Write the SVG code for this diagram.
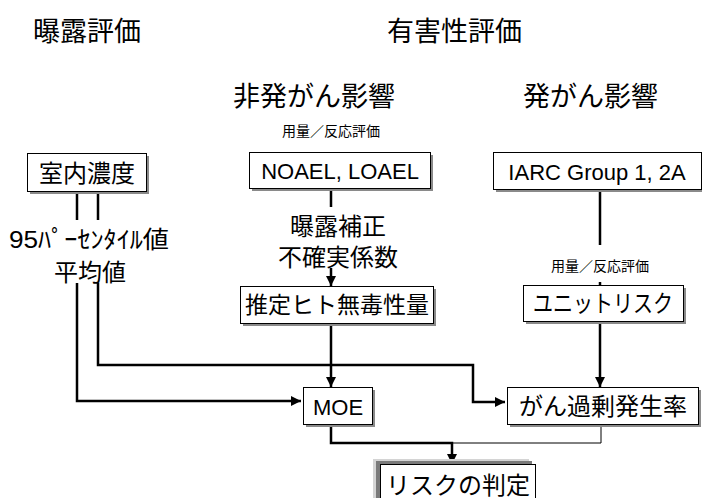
<svg xmlns="http://www.w3.org/2000/svg" width="702" height="498" viewBox="0 0 702 498">
<defs>
<marker id="arr" viewBox="0 0 10 10" refX="10" refY="5" markerWidth="4" markerHeight="4" markerUnits="strokeWidth" orient="auto">
<path d="M0,0 L10,5 L0,10 z" fill="#000"/>
</marker>
<style>
text{font-family:"Liberation Sans","Noto Sans CJK JP",sans-serif;fill:#000;}
.title{font-size:27px;}
.box{fill:#fff;stroke:#000;stroke-width:1;}
.shadow{fill:#8a8a8a;}
.lbl{font-size:24px;text-anchor:middle;}
.lat{font-size:22px;text-anchor:middle;}
.sm{font-size:14px;text-anchor:middle;}
.c{fill:none;stroke:#000;stroke-width:2.5;}
.thin{fill:none;stroke:#000;stroke-width:1;}
</style>
</defs>
<rect width="702" height="498" fill="#fff"/>
<g id="titles">
<text class="title" x="33" y="41">曝露評価</text>
<text class="title" x="387" y="41">有害性評価</text>
<text class="title" x="233" y="106">非発がん影響</text>
<text class="title" x="523" y="106">発がん影響</text>
</g>
<g id="labels">
<text class="sm" x="331" y="136">用量／反応評価</text>
<text class="sm" x="600" y="271">用量／反応評価</text>
<text class="lbl" x="338" y="235">曝露補正</text>
<text class="lbl" x="338" y="266">不確実係数</text>
<text class="lbl" x="89" y="248" textLength="160" lengthAdjust="spacingAndGlyphs">95ﾊﾟｰｾﾝﾀｲﾙ値</text>
<text class="lbl" x="90" y="281">平均値</text>
</g>
<g id="connectors">
<path class="c" d="M77,191 V220 M77,283 V401 H301" marker-end="url(#arr)"/>
<path class="c" d="M98,191 V220 M98,283 V365 H473 V402 H505" marker-end="url(#arr)"/>
<path class="c" d="M331,188 V207 M331,268 V286" marker-end="url(#arr)"/>
<path class="c" d="M331,323 V387" marker-end="url(#arr)"/>
<path class="c" d="M600,189 V245 M600,282 V285"/>
<path class="c" d="M600,321 V387" marker-end="url(#arr)"/>
<path class="thin" d="M601,425 V443 H452"/>
<path class="c" d="M331,424 V443 H452 V464" marker-end="url(#arr)"/>
</g>
<g id="node-indoor">
<rect class="shadow" x="30" y="156" width="119" height="38"/>
<rect class="box" x="27.5" y="153.5" width="119" height="38"/>
<text class="lbl" x="87" y="182">室内濃度</text>
</g>
<g id="node-noael">
<rect class="shadow" x="252" y="155" width="181" height="36"/>
<rect class="box" x="249.5" y="152.5" width="181" height="36"/>
<text class="lat" x="340" y="179">NOAEL, LOAEL</text>
</g>
<g id="node-iarc">
<rect class="shadow" x="496" y="155" width="208" height="37"/>
<rect class="box" x="493.5" y="152.5" width="208" height="37"/>
<text class="lat" x="597" y="180">IARC Group 1, 2A</text>
</g>
<g id="node-tdi">
<rect class="shadow" x="243" y="289" width="193" height="37"/>
<rect class="box" x="240.5" y="286.5" width="193" height="37"/>
<text class="lbl" x="337" y="313" style="font-size:23px">推定ヒト無毒性量</text>
</g>
<g id="node-unit">
<rect class="shadow" x="526" y="288" width="160" height="36"/>
<rect class="box" x="523.5" y="285.5" width="160" height="36"/>
<text class="lbl" x="603" y="312" textLength="140" lengthAdjust="spacingAndGlyphs">ユニットリスク</text>
</g>
<g id="node-moe">
<rect class="shadow" x="306" y="390" width="69" height="37"/>
<rect class="box" x="303.5" y="387.5" width="69" height="37"/>
<text class="lat" x="338" y="415">MOE</text>
</g>
<g id="node-excess">
<rect class="shadow" x="510" y="390" width="191" height="37"/>
<rect class="box" x="507.5" y="387.5" width="191" height="37"/>
<text class="lbl" x="603" y="415">がん過剰発生率</text>
</g>
<g id="node-risk">
<rect x="373" y="459" width="156" height="50" fill="#d4d4d4"/>
<rect x="376" y="461" width="156" height="50" fill="#7a7a7a"/>
<rect class="box" x="380.5" y="464.5" width="155" height="50"/>
<text class="lbl" x="458" y="494">リスクの判定</text>
</g>
</svg>
